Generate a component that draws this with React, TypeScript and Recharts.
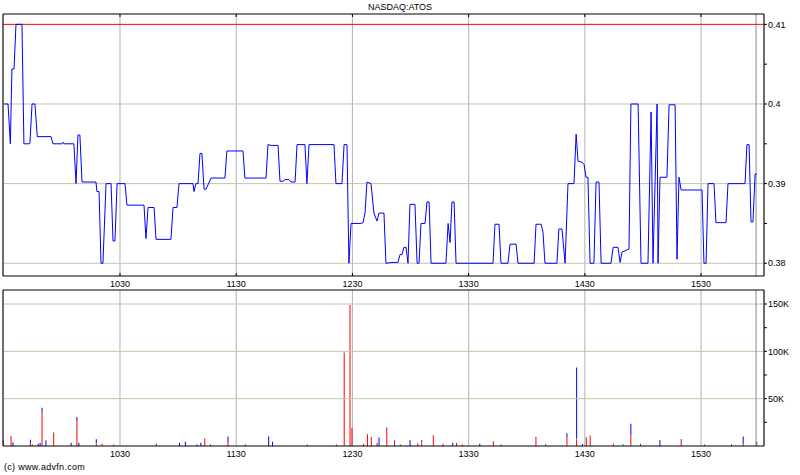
import {
  LineChart,
  Line,
  BarChart,
  Bar,
  XAxis,
  YAxis,
  CartesianGrid,
  ReferenceLine,
} from "recharts";

// minutes after the 09:30 open
const priceTimes = [
  0, 2.2, 3.4, 4.2, 5.3, 6.3, 9.4, 10.4, 13.2, 13.5, 14.6, 16.1, 17.3, 24.4, 25.4, 30.1, 30.6, 31.1,
  36.2, 37.3, 38.3, 39.3, 40.4, 47.6, 48.1, 49.2, 50.2, 51.2, 52.8, 55.4, 56.4, 57.4, 58.5, 62.6,
  63.6, 72.4, 73.4, 74.5, 77.6, 78.6, 86.3, 87.4, 89.4, 90.5, 93.0, 97.7, 98.2, 99.2, 100.3, 101.3,
  102.3, 103.4, 104.4, 107.0, 114.2, 115.2, 123.5, 124.5, 135.4, 136.4, 138.0, 141.6, 142.6, 144.2,
  145.2, 147.3, 148.3, 150.4, 151.4, 155.5, 156.5, 157.6, 170.5, 171.5, 174.6, 175.7, 177.2, 178.2,
  179.3, 184.4, 185.5, 186.5, 187.5, 189.6, 191.1, 192.7, 193.7, 196.3, 197.3, 200.4, 203.5, 204.6,
  205.6, 206.6, 207.7, 208.7, 209.7, 212.3, 213.4, 214.4, 215.4, 217.5, 218.5, 219.6, 220.6, 228.3,
  229.4, 230.4, 231.4, 232.5, 233.5, 252.6, 253.6, 255.7, 256.7, 260.3, 261.4, 264.5, 265.5, 273.8,
  274.8, 277.4, 278.4, 279.4, 285.6, 286.6, 288.2, 289.8, 291.3, 294.4, 295.5, 296.5, 298.5, 299.6,
  300.6, 301.6, 302.7, 304.7, 305.8, 307.3, 308.4, 313.5, 314.6, 317.1, 318.2, 319.2, 320.2, 322.8,
  323.8, 327.5, 329.0, 332.6, 334.2, 335.2, 337.3, 337.8, 338.8, 342.4, 343.5, 346.6, 347.6, 348.6,
  349.7, 360.5, 361.5, 362.6, 363.6, 366.7, 367.7, 372.9, 373.9, 375.0, 378.1, 379.1, 382.7, 383.7,
  384.8, 385.8, 386.8, 387.9, 388.9,
];

const prices = [
  0.4, 0.4, 0.395, 0.4044, 0.4044, 0.41, 0.41, 0.395, 0.395, 0.3951, 0.4, 0.4, 0.3959, 0.3959,
  0.395, 0.395, 0.3952, 0.395, 0.395, 0.39, 0.3961, 0.3961, 0.3902, 0.3902, 0.389, 0.389, 0.38,
  0.38, 0.39, 0.39, 0.3828, 0.3828, 0.39, 0.39, 0.3873, 0.3873, 0.3831, 0.387, 0.387, 0.383, 0.383,
  0.387, 0.387, 0.39, 0.39, 0.39, 0.389, 0.39, 0.39, 0.3938, 0.3938, 0.3893, 0.3893, 0.3907,
  0.3907, 0.3941, 0.3941, 0.3907, 0.3907, 0.3949, 0.3948, 0.3948, 0.3903, 0.3903, 0.3905, 0.3905,
  0.3902, 0.3902, 0.3949, 0.3949, 0.39, 0.3949, 0.3949, 0.39, 0.39, 0.3949, 0.3949, 0.38, 0.385,
  0.385, 0.3851, 0.3863, 0.3902, 0.39, 0.3863, 0.3853, 0.3863, 0.3863, 0.38, 0.3801, 0.3801,
  0.3811, 0.3811, 0.382, 0.382, 0.38, 0.3874, 0.3874, 0.38, 0.38, 0.385, 0.385, 0.3877, 0.3877,
  0.38, 0.38, 0.385, 0.3826, 0.3877, 0.3877, 0.38, 0.38, 0.3849, 0.3849, 0.38, 0.38, 0.3824,
  0.3824, 0.38, 0.38, 0.3849, 0.3849, 0.3839, 0.38, 0.38, 0.3843, 0.3843, 0.38, 0.39, 0.39, 0.3962,
  0.3928, 0.3927, 0.3924, 0.3908, 0.3908, 0.38, 0.38, 0.3902, 0.3902, 0.38, 0.38, 0.382, 0.382,
  0.3801, 0.3814, 0.3815, 0.3818, 0.4, 0.4, 0.38, 0.38, 0.399, 0.38, 0.4, 0.38, 0.3908, 0.3908,
  0.3999, 0.3999, 0.3805, 0.3908, 0.3892, 0.3892, 0.38, 0.38, 0.39, 0.39, 0.3851, 0.3851, 0.39,
  0.39, 0.39, 0.39, 0.39, 0.3949, 0.3949, 0.3852, 0.3852, 0.3912, 0.3912,
];

const volTimes = [
  0, 4, 5, 14, 15, 18, 19, 20, 22, 26, 35, 38, 39, 48, 51, 57, 79, 91, 94, 100, 102, 104, 107, 116,
  125, 137, 139, 157, 172, 176, 179, 180, 186, 188, 190, 193, 194, 198, 202, 205, 210, 214, 216,
  222, 227, 232, 234, 237, 246, 253, 257, 275, 280, 291, 296, 299, 301, 303, 315, 320, 324, 329,
  339, 350, 362, 376, 382, 389,
];
// thousands of shares
const volDown = [
  6, 10.5, 0, 3, 1.5, 0, 0, 35, 0, 13.7, 0, 26.4, 0, 2.5, 2.5, 1.5, 2.5, 0, 0, 0, 0, 8, 0, 4, 0, 0,
  0, 1.5, 1.5, 98, 149, 19, 2.5, 12.3, 9.5, 3.5, 0, 19.7, 6, 1.5, 0, 3, 3, 11.3, 2.5, 0, 3.5, 1.5,
  0, 5, 1.5, 8.5, 1, 9.5, 7, 0, 8, 11, 2.5, 0, 11, 2, 0, 6, 1.5, 0, 2.5, 2.5,
];
const volFlat = [
  0, 0, 0, 0, 0, 0, 0, 0, 0, 0.8, 0, 0, 0, 0.5, 0, 0, 0, 0, 0, 0, 0, 0, 0, 0, 0, 0, 0, 0, 0, 1, 0,
  0, 0, 0, 0, 0, 1, 0, 0, 0, 0, 0, 1, 0, 0, 0, 0, 0, 0, 0, 0, 0, 1.5, 0, 1, 0, 0, 0, 0, 2, 0, 0.5,
  0, 0, 0, 0, 0, 0,
];
const volUp = [
  0, 0, 4, 3.5, 0, 2.5, 3.5, 5.3, 6, 0, 3.5, 4.2, 3.5, 4, 0, 0, 0, 3.5, 4.5, 1.5, 3.5, 0, 1.5, 6,
  1.5, 10, 4.5, 0, 0, 0, 0, 0, 0, 0, 0, 0, 8, 0, 0, 0, 6, 0, 2, 0, 0, 3.5, 0, 0, 2.5, 0, 0, 1, 0, 4,
  75, 2, 1, 0, 0, 0, 12.6, 0, 6, 1, 0, 1.5, 7.5, 2,
];

const hourTicks = [60, 120, 180, 240, 300, 360];
const priceTicks = [0.38, 0.385, 0.39, 0.395, 0.4, 0.405, 0.41];
const volTicks = [25, 50, 75, 100, 125, 150];
const prevClose = 0.41;
const lastTime = 388.4;

const priceData = priceTimes.map((t, i) => ({ t, p: prices[i] }));
const volData = volTimes.map((t, i) => ({
  t,
  down: volDown[i],
  flat: volFlat[i],
  up: volUp[i],
}));

const X_DOMAIN: [number, number] = [-0.4, 392.5];
const FONT = "'Liberation Sans', Arial, sans-serif";
const HGRID = "#c4c4aa";
const VGRID = "#b2b2b2";

const fmtTime = (m: number) => {
  const total = 570 + m;
  const h = Math.floor(total / 60);
  const mm = total % 60;
  return `${h}${String(mm).padStart(2, "0")}`;
};
const fmtPrice = (v: number) =>
  Math.round(v * 1000) % 10 === 0 ? String(Math.round(v * 100) / 100) : "";
const fmtVol = (v: number) => (v % 50 === 0 ? `${v}K` : "");
const blank = () => "";

const tickStyle = { fontSize: 9, fill: "#000", fontFamily: FONT };

export default function App() {
  return (
    <div
      style={{
        position: "absolute",
        left: 0,
        top: 0,
        width: 800,
        height: 475,
        background: "#fff",
        fontFamily: FONT,
      }}
    >
      <div
        style={{
          position: "absolute",
          top: 2,
          left: 0,
          width: 800,
          textAlign: "center",
          fontSize: 9,
          color: "#000",
        }}
      >
        NASDAQ:ATOS
      </div>

      {/* price panel */}
      <div style={{ position: "absolute", top: 0, left: 0 }}>
        <LineChart
          width={800}
          height={277}
          data={priceData}
          margin={{ top: 14, right: 0, bottom: 1, left: 3 }}
        >
          <CartesianGrid
            xAxisId="b"
            yAxisId="r"
            horizontal={false}
            stroke={VGRID}
          />
          <XAxis
            xAxisId="b"
            type="number"
            dataKey="t"
            domain={X_DOMAIN}
            ticks={hourTicks}
            allowDataOverflow
            orientation="bottom"
            mirror
            tickFormatter={blank}
            tickSize={3}
            stroke="#000"
          />
          <XAxis
            xAxisId="t"
            type="number"
            dataKey="t"
            domain={X_DOMAIN}
            ticks={hourTicks}
            allowDataOverflow
            orientation="top"
            mirror
            tickFormatter={blank}
            tickSize={3}
            stroke="#000"
          />
          <YAxis
            yAxisId="l"
            orientation="left"
            domain={[0.3784, 0.4113]}
            allowDataOverflow
            mirror
            tick={false}
            tickLine={false}
            stroke="#000"
          />
          <YAxis
            yAxisId="r"
            orientation="right"
            domain={[0.3784, 0.4113]}
            ticks={priceTicks}
            allowDataOverflow
            width={36}
            tickSize={3}
            tickMargin={1}
            tickFormatter={fmtPrice}
            tick={tickStyle}
            stroke="#000"
          />
          {[0.38, 0.39, 0.4].map((v) => (
            <ReferenceLine key={v} xAxisId="b" yAxisId="r" y={v} stroke={HGRID} />
          ))}
          <ReferenceLine xAxisId="b" yAxisId="r" x={lastTime} stroke="#8a8a8a" />
          <ReferenceLine xAxisId="b" yAxisId="r" y={prevClose} stroke="#ff0000" />
          <Line
            xAxisId="b"
            yAxisId="r"
            dataKey="p"
            type="linear"
            stroke="#0000ff"
            strokeWidth={1}
            dot={false}
            isAnimationActive={false}
          />
        </LineChart>
      </div>

      {/* volume panel */}
      <div style={{ position: "absolute", top: 276, left: 0 }}>
        <BarChart
          width={800}
          height={199}
          data={volData}
          margin={{ top: 0, right: 0, bottom: 13, left: 3 }}
        >
          <CartesianGrid
            xAxisId="b"
            yAxisId="r"
            horizontal={false}
            stroke={VGRID}
          />
          <XAxis
            xAxisId="t"
            type="number"
            dataKey="t"
            domain={X_DOMAIN}
            ticks={hourTicks}
            allowDataOverflow
            orientation="top"
            height={14}
            tickLine={false}
            tickSize={0}
            tickMargin={3}
            tickFormatter={fmtTime}
            tick={tickStyle}
            stroke="#000"
          />
          <XAxis
            xAxisId="b"
            type="number"
            dataKey="t"
            domain={X_DOMAIN}
            ticks={hourTicks}
            allowDataOverflow
            orientation="bottom"
            height={16}
            tickLine={false}
            tickSize={0}
            tickMargin={5}
            tickFormatter={fmtTime}
            tick={tickStyle}
            stroke="#000"
          />
          <YAxis
            yAxisId="l"
            orientation="left"
            domain={[0, 164.8]}
            allowDataOverflow
            mirror
            tick={false}
            tickLine={false}
            stroke="#000"
          />
          <YAxis
            yAxisId="r"
            orientation="right"
            domain={[0, 164.8]}
            ticks={volTicks}
            allowDataOverflow
            width={36}
            tickSize={3}
            tickMargin={1}
            tickFormatter={fmtVol}
            tick={tickStyle}
            stroke="#000"
          />
          {[50, 100, 150].map((v) => (
            <ReferenceLine key={v} xAxisId="b" yAxisId="r" y={v} stroke={HGRID} />
          ))}
          <ReferenceLine xAxisId="b" yAxisId="r" x={lastTime} stroke="#8a8a8a" />
          <Bar xAxisId="b" yAxisId="r" dataKey="down" stackId="v" fill="#ff0000" barSize={1} isAnimationActive={false} />
          <Bar xAxisId="b" yAxisId="r" dataKey="flat" stackId="v" fill="#00c000" barSize={1} isAnimationActive={false} />
          <Bar xAxisId="b" yAxisId="r" dataKey="up" stackId="v" fill="#0000ff" barSize={1} isAnimationActive={false} />
        </BarChart>
      </div>

      <div
        style={{
          position: "absolute",
          left: 4,
          top: 462,
          fontSize: 9,
          color: "#000",
          letterSpacing: 0.3,
        }}
      >
        (c) www.advfn.com
      </div>
    </div>
  );
}
